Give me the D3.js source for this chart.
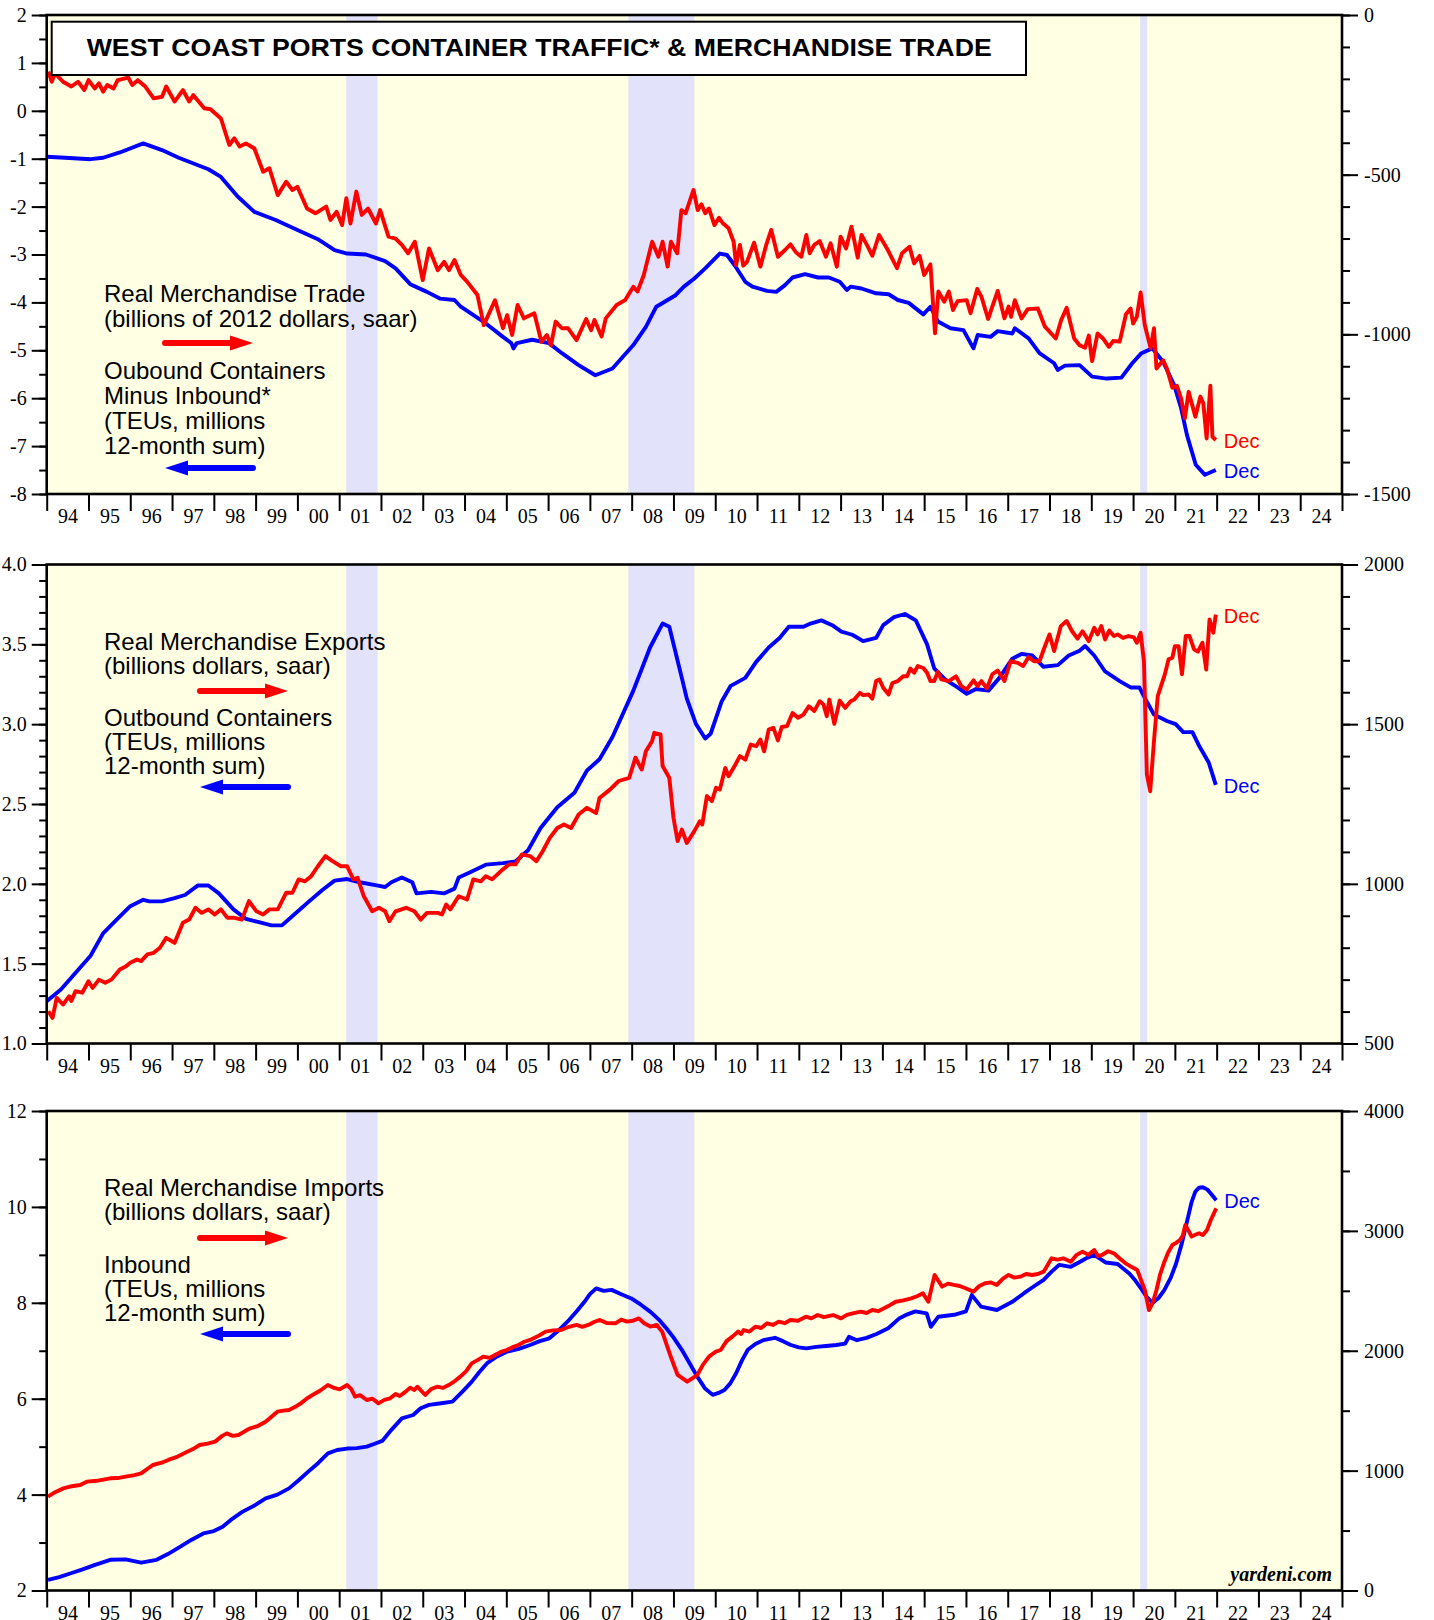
<!DOCTYPE html>
<meta charset="utf-8">
<style>
body { margin: 0; background: #fff; }
.legend { font-family: "Liberation Sans", Arial, sans-serif; font-size: 24px; fill: #000; }
.dec { font-family: "Liberation Sans", Arial, sans-serif; font-size: 20px; }
</style>
<body>
<script src="https://d3js.org/d3.v7.min.js"></script>
<script>

var yearLabels = ["94","95","96","97","98","99","00","01","02","03","04","05","06","07","08","09","10","11","12","13","14","15","16","17","18","19","20","21","22","23","24"];

var recessions = [[2001.17, 2001.92], [2007.92, 2009.5], [2020.17, 2020.34]];

// panel 1, blue: outbound minus inbound containers (TEUs, millions, 12-month sum) - left axis
var netContainers = [[1994.0,-0.96],[1994.44,-0.98],[1995.05,-1.01],[1995.35,-0.98],[1995.75,-0.87],[1996.31,-0.68],[1996.76,-0.82],[1997.16,-0.98],[1997.87,-1.22],[1998.17,-1.38],[1998.57,-1.79],[1998.97,-2.11],[1999.48,-2.28],[2000.08,-2.52],[2000.49,-2.68],[2000.89,-2.91],[2001.19,-2.98],[2001.64,-3.0],[2002.1,-3.14],[2002.35,-3.29],[2002.7,-3.62],[2003.1,-3.78],[2003.41,-3.92],[2003.76,-3.95],[2003.91,-4.09],[2004.51,-4.44],[2004.92,-4.72],[2005.12,-4.85],[2005.17,-4.96],[2005.25,-4.85],[2005.62,-4.78],[2006.02,-4.85],[2006.33,-5.06],[2006.73,-5.31],[2007.13,-5.52],[2007.54,-5.38],[2008.04,-4.89],[2008.34,-4.51],[2008.59,-4.09],[2009.05,-3.85],[2009.25,-3.67],[2009.5,-3.5],[2009.76,-3.29],[2010.11,-2.98],[2010.28,-3.01],[2010.46,-3.22],[2010.72,-3.57],[2010.89,-3.67],[2011.24,-3.76],[2011.46,-3.78],[2011.67,-3.64],[2011.85,-3.48],[2012.15,-3.41],[2012.46,-3.48],[2012.72,-3.48],[2012.98,-3.57],[2013.15,-3.74],[2013.24,-3.67],[2013.5,-3.71],[2013.85,-3.81],[2014.15,-3.83],[2014.37,-3.95],[2014.63,-4.01],[2014.98,-4.25],[2015.15,-4.09],[2015.33,-4.4],[2015.63,-4.54],[2015.94,-4.58],[2016.18,-4.96],[2016.28,-4.68],[2016.59,-4.72],[2016.76,-4.6],[2017.11,-4.65],[2017.17,-4.54],[2017.5,-4.75],[2017.76,-5.06],[2018.11,-5.27],[2018.2,-5.41],[2018.37,-5.32],[2018.72,-5.31],[2019.02,-5.55],[2019.37,-5.59],[2019.72,-5.57],[2019.98,-5.27],[2020.2,-5.06],[2020.46,-4.96],[2020.72,-5.24],[2020.98,-5.72],[2021.15,-6.21],[2021.29,-6.77],[2021.5,-7.39],[2021.72,-7.6],[2021.98,-7.5]];

// panel 1, red: real merchandise trade balance (billions of 2012 dollars, saar) - right axis
var tradeReal = [[1994.04,-177],[1994.12,-209],[1994.2,-183],[1994.39,-209],[1994.59,-224],[1994.75,-209],[1994.9,-235],[1995.0,-204],[1995.15,-230],[1995.25,-214],[1995.35,-240],[1995.45,-219],[1995.6,-230],[1995.7,-204],[1995.95,-196],[1996.05,-219],[1996.18,-204],[1996.36,-224],[1996.56,-261],[1996.76,-256],[1996.86,-224],[1997.06,-271],[1997.26,-235],[1997.41,-271],[1997.51,-251],[1997.77,-292],[1997.92,-295],[1998.17,-324],[1998.37,-407],[1998.49,-386],[1998.62,-412],[1998.77,-402],[1998.97,-418],[1999.18,-491],[1999.33,-480],[1999.53,-564],[1999.73,-522],[1999.88,-548],[2000.0,-538],[2000.23,-606],[2000.43,-621],[2000.69,-600],[2000.79,-642],[2000.94,-616],[2001.07,-658],[2001.17,-574],[2001.27,-653],[2001.41,-553],[2001.54,-626],[2001.69,-606],[2001.88,-653],[2001.98,-611],[2002.18,-694],[2002.35,-700],[2002.5,-720],[2002.65,-746],[2002.81,-710],[2003.0,-830],[2003.15,-731],[2003.36,-799],[2003.51,-773],[2003.63,-799],[2003.76,-767],[2003.91,-814],[2004.06,-835],[2004.31,-877],[2004.46,-971],[2004.73,-893],[2004.92,-981],[2005.02,-940],[2005.14,-1002],[2005.27,-908],[2005.42,-950],[2005.67,-934],[2005.84,-1023],[2005.97,-1002],[2006.07,-1034],[2006.18,-960],[2006.33,-981],[2006.48,-981],[2006.68,-1018],[2006.91,-952],[2007.03,-987],[2007.11,-955],[2007.28,-1007],[2007.38,-950],[2007.64,-908],[2007.84,-893],[2008.04,-851],[2008.14,-866],[2008.29,-814],[2008.49,-710],[2008.64,-757],[2008.74,-710],[2008.86,-788],[2008.94,-710],[2009.09,-746],[2009.19,-611],[2009.29,-621],[2009.48,-548],[2009.58,-611],[2009.67,-593],[2009.76,-621],[2009.85,-606],[2009.98,-658],[2010.09,-635],[2010.19,-653],[2010.32,-668],[2010.44,-710],[2010.5,-783],[2010.59,-720],[2010.67,-785],[2010.76,-773],[2010.93,-713],[2011.08,-788],[2011.22,-720],[2011.34,-673],[2011.5,-757],[2011.67,-736],[2011.8,-718],[2011.93,-743],[2012.06,-757],[2012.18,-689],[2012.26,-746],[2012.37,-720],[2012.5,-708],[2012.65,-757],[2012.76,-715],[2012.91,-788],[2013.0,-694],[2013.13,-731],[2013.26,-663],[2013.41,-760],[2013.5,-689],[2013.63,-720],[2013.76,-754],[2013.92,-689],[2014.11,-731],[2014.35,-793],[2014.47,-746],[2014.65,-726],[2014.76,-778],[2014.89,-754],[2015.0,-814],[2015.15,-781],[2015.26,-997],[2015.34,-866],[2015.48,-898],[2015.59,-866],[2015.69,-924],[2015.8,-896],[2016.02,-893],[2016.11,-934],[2016.27,-858],[2016.37,-882],[2016.53,-952],[2016.76,-864],[2016.92,-950],[2017.02,-913],[2017.08,-945],[2017.17,-893],[2017.33,-950],[2017.48,-921],[2017.72,-919],[2017.89,-976],[2018.15,-1013],[2018.28,-955],[2018.41,-917],[2018.59,-1013],[2018.72,-1034],[2018.85,-1042],[2018.94,-1004],[2019.02,-1084],[2019.15,-997],[2019.28,-1013],[2019.42,-1039],[2019.52,-1021],[2019.68,-1023],[2019.83,-937],[2019.94,-919],[2020.0,-966],[2020.09,-945],[2020.18,-869],[2020.28,-971],[2020.42,-1044],[2020.5,-981],[2020.56,-1107],[2020.72,-1081],[2020.81,-1107],[2020.94,-1167],[2021.05,-1161],[2021.15,-1201],[2021.24,-1263],[2021.33,-1180],[2021.49,-1258],[2021.61,-1195],[2021.68,-1216],[2021.76,-1326],[2021.85,-1161],[2021.9,-1321],[2021.98,-1331]];

// panel 2, blue: outbound containers (TEUs, millions, 12-month sum) - left axis
var outboundTEU = [[1994.0,1.265],[1994.34,1.338],[1994.75,1.46],[1995.05,1.55],[1995.35,1.69],[1995.65,1.77],[1996.0,1.86],[1996.31,1.9],[1996.46,1.89],[1996.76,1.89],[1997.06,1.91],[1997.31,1.93],[1997.62,1.99],[1997.87,1.99],[1998.12,1.94],[1998.47,1.84],[1998.77,1.78],[1999.08,1.76],[1999.38,1.74],[1999.63,1.74],[1999.93,1.81],[2000.28,1.89],[2000.59,1.96],[2000.89,2.02],[2001.19,2.03],[2001.49,2.01],[2001.9,1.99],[2002.1,1.98],[2002.25,2.01],[2002.5,2.04],[2002.75,2.01],[2002.85,1.94],[2003.2,1.95],[2003.51,1.94],[2003.76,1.97],[2003.86,2.04],[2004.11,2.07],[2004.51,2.12],[2004.92,2.13],[2005.22,2.14],[2005.52,2.21],[2005.82,2.35],[2006.22,2.48],[2006.63,2.57],[2006.93,2.71],[2007.23,2.78],[2007.54,2.92],[2008.04,3.21],[2008.44,3.48],[2008.74,3.63],[2008.9,3.61],[2009.2,3.29],[2009.32,3.16],[2009.54,3.0],[2009.76,2.91],[2009.89,2.94],[2010.15,3.14],[2010.37,3.24],[2010.72,3.29],[2010.98,3.39],[2011.28,3.48],[2011.54,3.54],[2011.76,3.61],[2012.11,3.61],[2012.28,3.63],[2012.54,3.65],[2012.8,3.62],[2013.02,3.58],[2013.28,3.56],[2013.54,3.52],[2013.85,3.54],[2014.02,3.62],[2014.28,3.67],[2014.54,3.69],[2014.8,3.65],[2015.07,3.5],[2015.24,3.35],[2015.5,3.28],[2015.8,3.23],[2016.02,3.19],[2016.24,3.22],[2016.54,3.21],[2016.8,3.29],[2017.11,3.41],[2017.33,3.44],[2017.59,3.43],[2017.85,3.36],[2018.2,3.37],[2018.46,3.43],[2018.72,3.46],[2018.85,3.49],[2019.07,3.43],[2019.33,3.33],[2019.68,3.27],[2019.94,3.23],[2020.15,3.23],[2020.33,3.14],[2020.5,3.06],[2020.81,3.02],[2021.02,3.0],[2021.2,2.95],[2021.42,2.95],[2021.59,2.86],[2021.81,2.76],[2021.98,2.62]];

// panel 2, red: real merchandise exports (billions dollars, saar) - right axis
var exportsReal = [[1994.04,601],[1994.14,580],[1994.24,643],[1994.39,622],[1994.54,648],[1994.59,633],[1994.69,664],[1994.85,659],[1995.0,695],[1995.1,674],[1995.25,700],[1995.4,690],[1995.55,700],[1995.75,732],[1995.9,742],[1996.0,753],[1996.16,763],[1996.26,758],[1996.41,779],[1996.56,784],[1996.71,800],[1996.86,831],[1997.06,815],[1997.26,878],[1997.41,888],[1997.56,925],[1997.71,909],[1997.87,920],[1998.02,904],[1998.17,920],[1998.32,894],[1998.47,894],[1998.67,888],[1998.84,946],[1999.02,914],[1999.18,904],[1999.33,920],[1999.53,920],[1999.73,972],[1999.88,972],[2000.03,1014],[2000.18,1008],[2000.33,1024],[2000.49,1055],[2000.67,1087],[2000.84,1071],[2001.04,1055],[2001.19,1055],[2001.34,1014],[2001.44,1019],[2001.59,961],[2001.79,914],[2001.95,925],[2002.1,914],[2002.2,883],[2002.35,914],[2002.6,925],[2002.8,914],[2002.95,888],[2003.1,909],[2003.36,909],[2003.46,904],[2003.56,935],[2003.66,920],[2003.86,961],[2004.06,951],[2004.21,1014],[2004.39,1008],[2004.51,1024],[2004.66,1014],[2004.87,1040],[2005.07,1061],[2005.22,1061],[2005.37,1092],[2005.57,1087],[2005.72,1071],[2005.87,1102],[2006.04,1144],[2006.22,1175],[2006.38,1186],[2006.55,1175],[2006.73,1217],[2006.93,1238],[2007.15,1222],[2007.23,1269],[2007.48,1295],[2007.69,1322],[2007.94,1332],[2008.09,1395],[2008.24,1358],[2008.34,1415],[2008.49,1447],[2008.54,1473],[2008.69,1468],[2008.74,1369],[2008.9,1332],[2009.0,1207],[2009.1,1134],[2009.2,1170],[2009.32,1128],[2009.5,1165],[2009.63,1196],[2009.69,1186],[2009.8,1275],[2009.92,1259],[2010.02,1301],[2010.11,1295],[2010.24,1363],[2010.32,1337],[2010.46,1368],[2010.59,1400],[2010.72,1389],[2010.85,1436],[2010.98,1431],[2011.08,1452],[2011.17,1415],[2011.28,1483],[2011.39,1489],[2011.5,1449],[2011.59,1491],[2011.72,1494],[2011.85,1535],[2011.98,1520],[2012.11,1530],[2012.24,1556],[2012.37,1541],[2012.5,1572],[2012.59,1562],[2012.67,1525],[2012.73,1577],[2012.85,1501],[2012.98,1574],[2013.11,1551],[2013.24,1572],[2013.33,1577],[2013.46,1598],[2013.54,1591],[2013.67,1593],[2013.76,1580],[2013.85,1635],[2013.93,1640],[2014.02,1614],[2014.15,1593],[2014.24,1629],[2014.37,1635],[2014.5,1650],[2014.59,1650],[2014.67,1674],[2014.76,1661],[2014.85,1682],[2014.98,1676],[2015.07,1661],[2015.15,1635],[2015.24,1635],[2015.33,1664],[2015.41,1640],[2015.59,1635],[2015.76,1650],[2015.89,1619],[2016.02,1609],[2016.18,1637],[2016.28,1619],[2016.37,1635],[2016.5,1612],[2016.63,1656],[2016.76,1668],[2016.92,1635],[2017.07,1697],[2017.24,1692],[2017.37,1682],[2017.5,1710],[2017.63,1697],[2017.76,1697],[2017.89,1744],[2018.0,1781],[2018.11,1729],[2018.27,1807],[2018.41,1823],[2018.54,1791],[2018.67,1768],[2018.79,1791],[2018.94,1760],[2019.07,1802],[2019.15,1781],[2019.24,1807],[2019.33,1765],[2019.43,1793],[2019.54,1776],[2019.63,1781],[2019.76,1770],[2019.89,1776],[2020.02,1772],[2020.09,1755],[2020.18,1786],[2020.26,1697],[2020.33,1342],[2020.41,1290],[2020.5,1447],[2020.59,1588],[2020.68,1624],[2020.76,1656],[2020.85,1703],[2020.94,1708],[2021.0,1744],[2021.09,1744],[2021.17,1656],[2021.26,1776],[2021.35,1776],[2021.46,1734],[2021.55,1727],[2021.66,1755],[2021.75,1671],[2021.83,1828],[2021.92,1786],[2021.98,1843]];

// panel 3, blue: inbound containers (TEUs, millions, 12-month sum) - left axis
var inboundTEU = [[1994.03,2.22],[1994.3,2.28],[1994.58,2.36],[1994.86,2.44],[1995.14,2.53],[1995.52,2.64],[1995.89,2.65],[1996.26,2.58],[1996.63,2.64],[1996.9,2.76],[1997.19,2.91],[1997.47,3.06],[1997.75,3.19],[1998.0,3.24],[1998.21,3.33],[1998.45,3.5],[1998.68,3.64],[1998.95,3.76],[1999.24,3.92],[1999.52,4.0],[1999.8,4.13],[2000.03,4.3],[2000.26,4.48],[2000.5,4.66],[2000.73,4.86],[2000.95,4.93],[2001.19,4.96],[2001.42,4.97],[2001.66,5.0],[2001.85,5.06],[2002.03,5.12],[2002.25,5.35],[2002.5,5.59],[2002.77,5.66],[2002.95,5.8],[2003.15,5.87],[2003.4,5.9],[2003.71,5.94],[2003.95,6.15],[2004.17,6.35],[2004.35,6.55],[2004.54,6.74],[2004.78,6.88],[2005.01,6.98],[2005.3,7.04],[2005.57,7.12],[2005.8,7.2],[2006.03,7.26],[2006.27,7.44],[2006.5,7.64],[2006.7,7.84],[2006.87,8.02],[2007.0,8.18],[2007.15,8.3],[2007.33,8.25],[2007.52,8.27],[2007.75,8.18],[2007.99,8.09],[2008.22,7.96],[2008.45,7.81],[2008.65,7.65],[2008.83,7.47],[2009.0,7.28],[2009.2,7.02],[2009.4,6.72],[2009.57,6.46],[2009.75,6.22],[2009.94,6.08],[2010.08,6.12],[2010.22,6.18],[2010.36,6.32],[2010.5,6.53],[2010.64,6.8],[2010.78,7.02],[2010.96,7.14],[2011.15,7.22],[2011.43,7.27],[2011.62,7.2],[2011.81,7.12],[2012.0,7.07],[2012.18,7.05],[2012.42,7.08],[2012.65,7.1],[2012.9,7.12],[2013.11,7.15],[2013.2,7.29],[2013.39,7.22],[2013.62,7.27],[2013.86,7.35],[2014.14,7.47],[2014.41,7.68],[2014.6,7.76],[2014.79,7.82],[2015.06,7.78],[2015.16,7.5],[2015.34,7.71],[2015.72,7.75],[2016.0,7.82],[2016.14,8.16],[2016.36,7.92],[2016.74,7.85],[2017.11,8.02],[2017.39,8.2],[2017.62,8.34],[2017.86,8.48],[2018.05,8.65],[2018.23,8.79],[2018.51,8.75],[2018.7,8.84],[2018.88,8.93],[2019.07,9.0],[2019.35,8.84],[2019.63,8.81],[2019.91,8.61],[2020.05,8.47],[2020.19,8.3],[2020.33,8.12],[2020.47,8.0],[2020.61,8.1],[2020.75,8.27],[2020.9,8.52],[2021.03,8.82],[2021.17,9.25],[2021.3,9.73],[2021.4,10.1],[2021.49,10.32],[2021.58,10.4],[2021.67,10.41],[2021.78,10.36],[2021.86,10.28],[2021.99,10.14]];

// panel 3, red: real merchandise imports (billions dollars, saar) - right axis
var importsReal = [[1994.03,783],[1994.2,820],[1994.4,852],[1994.6,870],[1994.8,880],[1994.96,908],[1995.2,915],[1995.52,936],[1995.7,938],[1995.89,950],[1996.1,962],[1996.26,977],[1996.54,1047],[1996.75,1066],[1996.91,1089],[1997.1,1112],[1997.29,1144],[1997.5,1180],[1997.66,1214],[1997.85,1225],[1998.03,1242],[1998.2,1290],[1998.31,1311],[1998.45,1290],[1998.59,1297],[1998.75,1330],[1998.87,1353],[1999.05,1372],[1999.24,1408],[1999.38,1450],[1999.52,1492],[1999.66,1500],[1999.8,1506],[1999.95,1532],[2000.08,1561],[2000.22,1600],[2000.36,1631],[2000.55,1668],[2000.73,1714],[2000.88,1690],[2001.01,1678],[2001.19,1714],[2001.29,1680],[2001.38,1617],[2001.5,1630],[2001.66,1589],[2001.8,1600],[2001.94,1561],[2002.08,1590],[2002.22,1603],[2002.35,1640],[2002.45,1622],[2002.59,1659],[2002.7,1692],[2002.8,1672],[2002.87,1700],[2003.06,1631],[2003.2,1680],[2003.34,1700],[2003.48,1690],[2003.62,1714],[2003.76,1745],[2003.9,1784],[2004.04,1830],[2004.17,1895],[2004.3,1920],[2004.45,1951],[2004.6,1940],[2004.73,1965],[2004.87,1990],[2005.01,2006],[2005.15,2030],[2005.29,2048],[2005.43,2075],[2005.57,2090],[2005.75,2120],[2005.94,2159],[2006.12,2170],[2006.31,2173],[2006.5,2200],[2006.68,2215],[2006.82,2200],[2006.96,2215],[2007.1,2240],[2007.24,2257],[2007.4,2232],[2007.61,2229],[2007.75,2260],[2007.89,2243],[2008.03,2250],[2008.17,2270],[2008.3,2230],[2008.45,2201],[2008.6,2215],[2008.73,2159],[2008.92,1965],[2009.1,1798],[2009.33,1742],[2009.45,1770],[2009.57,1798],[2009.7,1880],[2009.85,1951],[2010.0,1990],[2010.13,2006],[2010.27,2080],[2010.41,2118],[2010.55,2160],[2010.62,2140],[2010.68,2173],[2010.82,2160],[2010.96,2201],[2011.1,2190],[2011.24,2229],[2011.38,2215],[2011.52,2243],[2011.66,2230],[2011.8,2257],[2011.98,2250],[2012.17,2284],[2012.3,2270],[2012.45,2298],[2012.6,2280],[2012.82,2298],[2013.01,2270],[2013.15,2300],[2013.29,2312],[2013.48,2326],[2013.62,2315],[2013.76,2340],[2013.9,2330],[2014.04,2354],[2014.18,2380],[2014.32,2409],[2014.5,2420],[2014.69,2437],[2014.83,2455],[2014.97,2479],[2015.1,2409],[2015.25,2632],[2015.43,2535],[2015.57,2560],[2015.71,2549],[2015.85,2540],[2015.99,2521],[2016.18,2493],[2016.32,2540],[2016.46,2563],[2016.6,2570],[2016.74,2549],[2016.88,2600],[2017.02,2632],[2017.16,2610],[2017.3,2618],[2017.44,2640],[2017.58,2632],[2017.72,2640],[2017.86,2660],[2018.05,2771],[2018.19,2760],[2018.33,2771],[2018.51,2743],[2018.65,2800],[2018.79,2827],[2018.93,2800],[2019.07,2840],[2019.16,2790],[2019.26,2799],[2019.4,2830],[2019.54,2813],[2019.68,2770],[2019.82,2729],[2019.96,2700],[2020.1,2674],[2020.28,2507],[2020.38,2340],[2020.47,2400],[2020.56,2507],[2020.65,2640],[2020.75,2743],[2020.84,2820],[2020.94,2882],[2021.03,2900],[2021.12,2924],[2021.19,2960],[2021.25,3049],[2021.33,3000],[2021.4,2952],[2021.5,2970],[2021.58,2980],[2021.67,2965],[2021.77,3007],[2021.86,3091],[2021.99,3188]];

var width = 1434, height = 1620;
var plotLeft = 46.7, plotRight = 1342;
var bgColour = "#ffffe3", recColour = "#e2e2fa";
var redColour = "#ff0000", blueColour = "#0000ff";
var serif = "'Liberation Serif', 'Times New Roman', serif";

function range(a, b, step) {
	var out = [];
	var n = Math.round((b - a) / step);
	for (var i = 0; i <= n; i++) out.push(+(a + i * step).toFixed(4));
	return out;
}

var panels = [
	{
		top: 15, bottom: 494,
		left: [-8, 2], leftMajor: range(-8, 2, 1), leftMinor: range(-8, 2, 0.5), leftFmt: function(d) { return String(d); },
		right: [-1500, 0], rightMajor: range(-1500, 0, 500), rightMinor: range(-1500, 0, 100),
		blue: netContainers, red: tradeReal, redDec: true, blueDec: true,
		legend: [["Real Merchandise Trade", 301.5], ["(billions of 2012 dollars, saar)", 326.5], ["Oubound Containers", 378.5], ["Minus Inbound*", 403.5], ["(TEUs, millions", 428.5], ["12-month sum)", 453.5]],
		redArrow: [165, 253, 343], blueArrow: [165, 253, 468]
	},
	{
		top: 564.5, bottom: 1043.5,
		left: [1, 4], leftMajor: range(1, 4, 0.5), leftMinor: range(1, 4, 0.1), leftFmt: function(d) { return d.toFixed(1); },
		right: [500, 2000], rightMajor: range(500, 2000, 500), rightMinor: range(500, 2000, 100),
		blue: outboundTEU, red: exportsReal, redDec: true, blueDec: true,
		legend: [["Real Merchandise Exports", 650], ["(billions dollars, saar)", 674], ["Outbound Containers", 726], ["(TEUs, millions", 750], ["12-month sum)", 774]],
		redArrow: [200, 288, 691], blueArrow: [200, 288, 787]
	},
	{
		top: 1111, bottom: 1590.5,
		left: [2, 12], leftMajor: range(2, 12, 2), leftMinor: range(2, 12, 1), leftFmt: function(d) { return String(d); },
		right: [0, 4000], rightMajor: range(0, 4000, 1000), rightMinor: range(0, 4000, 500),
		blue: inboundTEU, red: importsReal, redDec: false, blueDec: true,
		legend: [["Real Merchandise Imports", 1196], ["(billions dollars, saar)", 1220], ["Inbound", 1273], ["(TEUs, millions", 1297], ["12-month sum)", 1321]],
		redArrow: [200, 288, 1238], blueArrow: [200, 288, 1334]
	}
];

var svg = d3.select("body").append("svg")
	.attr("width", width)
	.attr("height", height);

var x = d3.scaleLinear().domain([1994, 2025]).range([plotLeft, plotRight]);

function styleAxis(g, size) {
	g.select(".domain").remove();
	g.selectAll(".tick line").attr("stroke", "#000").attr("stroke-width", 2);
	g.selectAll("text").attr("font-family", serif).attr("font-size", size).attr("fill", "#000");
	g.attr("font-family", null).attr("font-size", null);
}

function drawArrow(g, a, colour, pointRight) {
	var x1 = a[0], x2 = a[1], y = a[2];
	var headLen = 23, half = 7.5;
	var tip = pointRight ? x2 : x1;
	var base = pointRight ? x2 - headLen : x1 + headLen;
	var tail = pointRight ? x1 : x2;
	g.append("line")
		.attr("x1", tail).attr("x2", base + (pointRight ? 2 : -2))
		.attr("y1", y).attr("y2", y)
		.attr("stroke", colour).attr("stroke-width", 6)
		.attr("stroke-linecap", "round");
	g.append("path")
		.attr("d", "M" + tip + "," + y + "L" + base + "," + (y - half) + "L" + base + "," + (y + half) + "Z")
		.attr("fill", colour);
}

panels.forEach(function(p) {
	var g = svg.append("g");
	var yL = d3.scaleLinear().domain(p.left).range([p.bottom, p.top]);
	var yR = d3.scaleLinear().domain(p.right).range([p.bottom, p.top]);

	g.append("rect")
		.attr("x", plotLeft).attr("y", p.top)
		.attr("width", plotRight - plotLeft).attr("height", p.bottom - p.top)
		.attr("fill", bgColour);

	g.selectAll(".rec").data(recessions).enter().append("rect")
		.attr("x", function(d) { return x(d[0]); })
		.attr("y", p.top)
		.attr("width", function(d) { return x(d[1]) - x(d[0]); })
		.attr("height", p.bottom - p.top)
		.attr("fill", recColour);

	// legend text
	g.selectAll(".legend").data(p.legend).enter().append("text")
		.attr("class", "legend")
		.attr("x", 104)
		.attr("y", function(d) { return d[1]; })
		.text(function(d) { return d[0]; });
	drawArrow(g, p.redArrow, redColour, true);
	drawArrow(g, p.blueArrow, blueColour, false);

	var lineL = d3.line().x(function(d) { return x(d[0]); }).y(function(d) { return yL(d[1]); });
	var lineR = d3.line().x(function(d) { return x(d[0]); }).y(function(d) { return yR(d[1]); });

	g.append("path").datum(p.blue)
		.attr("d", lineL)
		.attr("fill", "none").attr("stroke", blueColour).attr("stroke-width", 3.9)
		.attr("stroke-linejoin", "round");
	g.append("path").datum(p.red)
		.attr("d", lineR)
		.attr("fill", "none").attr("stroke", redColour).attr("stroke-width", 3.9)
		.attr("stroke-linejoin", "round");

	var lastRed = p.red[p.red.length - 1], lastBlue = p.blue[p.blue.length - 1];
	if (p.redDec) {
		g.append("text").attr("class", "dec")
			.attr("x", x(lastRed[0]) + 8).attr("y", yR(lastRed[1])).attr("dy", "0.4em")
			.attr("fill", redColour).text("Dec");
	}
	if (p.blueDec) {
		g.append("text").attr("class", "dec")
			.attr("x", x(lastBlue[0]) + 8).attr("y", yL(lastBlue[1])).attr("dy", "0.4em")
			.attr("fill", blueColour).text("Dec");
	}

	// left axis
	g.append("g").attr("transform", "translate(" + plotLeft + ",0)")
		.call(d3.axisLeft(yL).tickValues(p.leftMinor).tickSize(7.5).tickFormat(""))
		.call(styleAxis, 20);
	g.append("g").attr("transform", "translate(" + plotLeft + ",0)")
		.call(d3.axisLeft(yL).tickValues(p.leftMajor).tickSize(15).tickPadding(5).tickFormat(p.leftFmt))
		.call(styleAxis, 20);

	// right axis
	g.append("g").attr("transform", "translate(" + plotRight + ",0)")
		.call(d3.axisRight(yR).tickValues(p.rightMinor).tickSize(8).tickFormat(""))
		.call(styleAxis, 20);
	g.append("g").attr("transform", "translate(" + plotRight + ",0)")
		.call(d3.axisRight(yR).tickValues(p.rightMajor).tickSize(16).tickPadding(6).tickFormat(function(d) { return String(d); }))
		.call(styleAxis, 20);

	// bottom axis: year boundaries and mid-year labels
	g.append("g").attr("transform", "translate(0," + p.bottom + ")")
		.call(d3.axisBottom(x).tickValues(range(1994, 2025, 1)).tickSize(17).tickFormat(""))
		.call(styleAxis, 20);
	g.append("g").attr("transform", "translate(0," + p.bottom + ")")
		.call(d3.axisBottom(x).tickValues(yearLabels.map(function(s, i) { return 1994.5 + i; }))
			.tickSize(0).tickPadding(15).tickFormat(function(d, i) { return yearLabels[i]; }))
		.call(styleAxis, 20);

	// frame
	g.append("rect")
		.attr("x", plotLeft).attr("y", p.top)
		.attr("width", plotRight - plotLeft).attr("height", p.bottom - p.top)
		.attr("fill", "none").attr("stroke", "#000").attr("stroke-width", 2.6);
});

// title box
svg.append("rect")
	.attr("x", 51.7).attr("y", 21.7).attr("width", 974.3).attr("height", 53.3)
	.attr("fill", "#fff").attr("stroke", "#000").attr("stroke-width", 2);
svg.append("text")
	.attr("x", 86.7).attr("y", 56)
	.attr("font-family", "'Liberation Sans', Arial, sans-serif")
	.attr("font-weight", "bold").attr("font-size", 24)
	.attr("textLength", 905).attr("lengthAdjust", "spacingAndGlyphs")
	.text("WEST COAST PORTS CONTAINER TRAFFIC* & MERCHANDISE TRADE");

svg.append("text")
	.attr("x", 1332).attr("y", 1581)
	.attr("text-anchor", "end")
	.attr("font-family", serif).attr("font-weight", "bold").attr("font-style", "italic")
	.attr("font-size", 20)
	.text("yardeni.com");

</script>
</body>
